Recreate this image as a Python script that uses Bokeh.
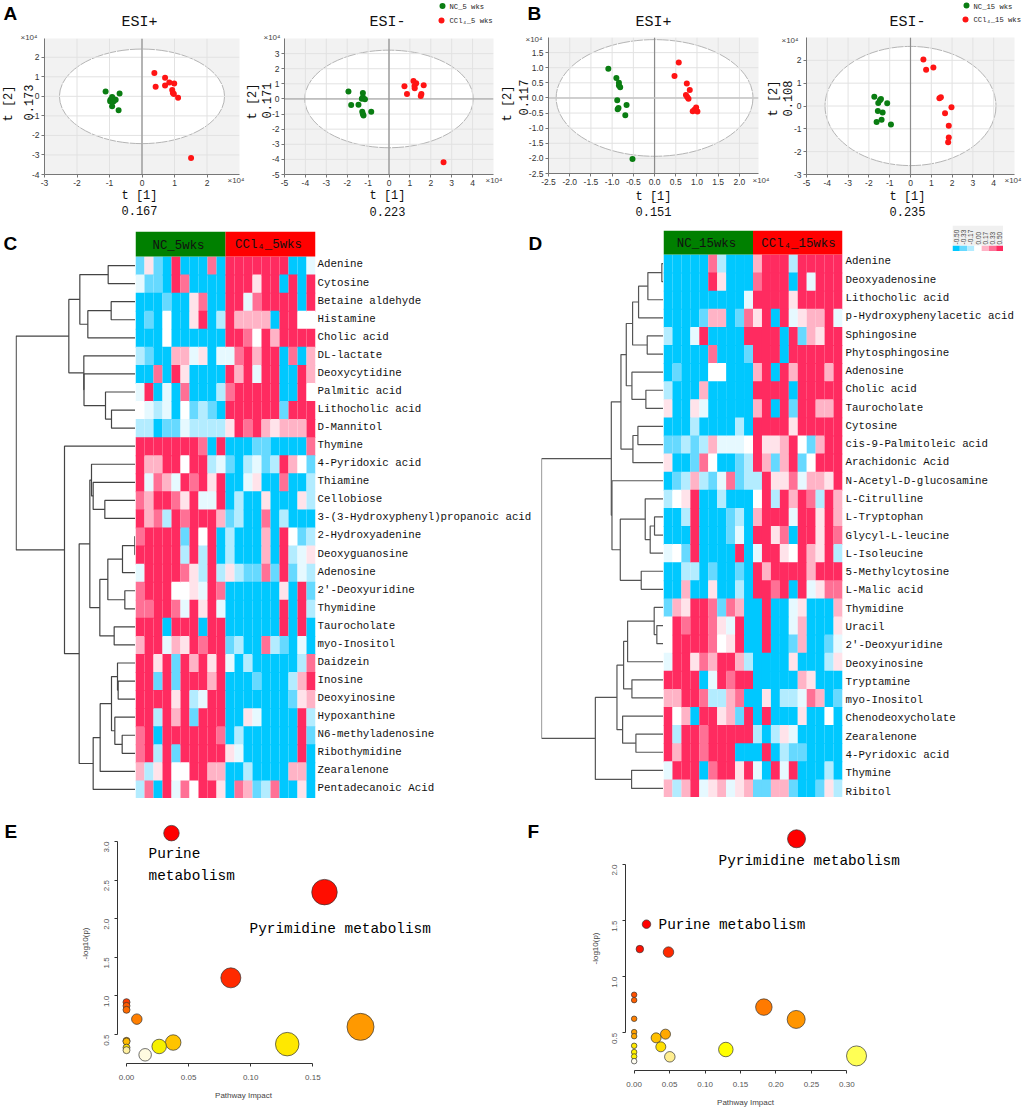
import math
from bokeh.plotting import figure
from bokeh.models import (Range1d, LinearAxis, FixedTicker, Span, LinearColorMapper, NumeralTickFormatter,
                          ColumnDataSource)
from bokeh.core.properties import value
from bokeh.embed import file_html
from bokeh.resources import INLINE

# ---------- PCA score plots ----------
a1_green_x = [-1.12, -0.69, -0.92, -0.97, -0.81, -0.98, -0.87, -0.92, -0.72, -0.90]
a1_green_y = [0.25, 0.14, -0.03, -0.17, -0.17, -0.25, -0.25, -0.51, -0.71, -0.10]
a1_red_x = [0.38, 0.71, 0.84, 0.99, 0.42, 0.71, 0.93, 0.95, 0.98, 1.11, 1.51]
a1_red_y = [1.19, 0.95, 0.71, 0.66, 0.49, 0.56, 0.32, 0.17, 0.12, -0.07, -3.15]
a2_green_x = [-1.94, -1.25, -1.81, -1.46, -1.30, -1.25, -1.15, -1.28, -1.25, -1.22, -0.85]
a2_green_y = [0.49, 0.40, -0.40, -0.38, 0.02, 0.11, -0.02, -0.84, -1.00, -1.10, -0.84]
a2_red_x = [1.17, 1.30, 0.74, 1.22, 1.23, 1.66, 0.86, 1.55, 1.52, 2.61]
a2_red_y = [1.19, 1.04, 0.84, 0.86, 0.71, 0.90, 0.33, 0.33, 0.20, -4.19]
b1_green_x = [-1.09, -0.90, -0.84, -0.84, -0.81, -0.88, -0.66, -0.85, -0.87, -0.69, -0.52]
b1_green_y = [0.97, 0.66, 0.50, 0.41, 0.35, -0.08, -0.23, -0.33, -0.37, -0.57, -2.02]
b1_red_x = [0.57, 0.47, 0.76, 0.83, 0.74, 0.77, 0.80, 0.98, 0.94, 0.90, 1.01]
b1_red_y = [1.17, 0.73, 0.48, 0.26, 0.10, 0.03, -0.03, -0.32, -0.39, -0.44, -0.45]
b2_green_x = [-1.74, -1.42, -1.55, -1.12, -1.57, -1.34, -1.39, -1.63, -0.94, -1.47]
b2_green_y = [0.40, 0.31, 0.13, 0.12, -0.22, -0.28, -0.60, -0.70, -0.81, 0.25]
b2_red_x = [0.62, 0.75, 1.10, 1.46, 1.39, 1.97, 1.66, 1.84, 1.84, 1.81]
b2_red_y = [2.04, 1.59, 1.69, 0.38, 0.34, -0.06, -0.32, -0.87, -1.38, -1.59]

a1_xticks = [-3, -2, -1, 0, 1, 2]
a1_yticks = [-4, -3, -2, -1, 0, 1, 2]
a2_xticks = [-5, -4, -3, -2, -1, 0, 1, 2, 3, 4]
a2_yticks = [-5, -4, -3, -2, -1, 0, 1, 2, 3]
b1_ticks = [-2.5, -2.0, -1.5, -1.0, -0.5, 0, 0.5, 1.0, 1.5, 2.0]
b1_yticks = [-2.5, -2.0, -1.5, -1.0, -0.5, 0, 0.5, 1.0, 1.5]
b2_xticks = [-5, -4, -3, -2, -1, 0, 1, 2, 3, 4]
b2_yticks = [-3, -2, -1, 0, 1, 2]

# ---------- heat maps: levels 0..8 stand for -0.5 .. +0.5 ----------
c_labels = ["Adenine", "Cytosine", "Betaine aldehyde", "Histamine", "Cholic acid", "DL-lactate",
            "Deoxycytidine", "Palmitic acid", "Lithocholic acid", "D-Mannitol", "Thymine",
            "4-Pyridoxic acid", "Thiamine", "Cellobiose", "3-(3-Hydroxyphenyl)propanoic acid",
            "2-Hydroxyadenine", "Deoxyguanosine", "Adenosine", "2'-Deoxyuridine", "Thymidine",
            "Taurocholate", "myo-Inositol", "Daidzein", "Inosine", "Deoxyinosine", "Hypoxanthine",
            "N6-methyladenosine", "Ribothymidine", "Zearalenone", "Pentadecanoic Acid"]
c_levels = [
    [1,5,1,0,8,0,0,0,7,0, 8,8,8,8,8,8,8,0,0,3],
    [3,1,1,0,8,7,0,0,0,0, 8,8,8,5,8,8,0,8,0,8],
    [0,0,0,1,0,0,5,7,0,0, 8,8,3,7,8,8,8,8,0,8],
    [0,1,0,4,0,0,5,8,0,2, 8,6,6,6,6,0,8,8,4,4],
    [0,0,0,4,0,0,0,0,0,0, 8,8,7,4,8,6,8,8,8,8],
    [2,1,0,0,6,6,3,5,0,3, 3,7,8,6,8,8,0,7,0,6],
    [0,0,7,0,8,5,0,0,0,0, 8,6,8,3,8,8,0,0,8,6],
    [3,8,0,3,0,7,0,0,0,2, 7,8,8,8,8,8,0,0,8,4],
    [4,3,2,3,0,4,1,2,1,0, 8,8,8,8,8,8,1,8,8,8],
    [2,2,0,1,1,3,2,2,2,2, 5,8,7,8,6,5,6,6,6,8],
    [8,8,8,8,8,8,8,7,0,8, 0,0,0,1,1,0,0,0,0,7],
    [8,6,6,8,8,4,8,8,2,3, 1,0,2,3,1,2,8,6,4,1],
    [8,3,7,6,3,8,7,8,5,8, 0,0,3,5,0,0,7,0,0,2],
    [7,6,8,8,7,5,8,3,3,8, 0,2,0,0,5,0,0,0,5,2],
    [8,6,7,2,8,7,8,8,8,6, 1,2,0,0,7,0,2,0,0,0],
    [7,8,8,8,8,1,8,4,8,0, 2,0,0,0,6,0,8,4,1,2],
    [8,8,8,8,8,2,8,2,8,0, 2,0,0,0,6,0,8,2,3,5],
    [3,8,8,8,8,7,5,2,8,2, 5,2,1,1,7,1,8,1,3,2],
    [7,8,8,8,4,4,5,3,8,7, 0,0,0,0,0,0,5,0,8,1],
    [7,7,8,8,7,3,8,5,8,3, 0,0,0,0,0,0,8,0,8,2],
    [8,8,8,0,8,8,8,0,8,8, 0,0,0,0,0,0,8,0,8,0],
    [6,8,8,3,6,5,8,7,8,8, 1,2,0,0,7,2,1,0,3,0],
    [8,8,5,8,1,8,6,8,5,8, 3,0,2,0,0,0,0,0,2,7],
    [8,8,1,8,1,8,8,8,6,8, 0,0,0,1,0,0,0,2,6,8],
    [8,8,8,8,5,8,2,3,8,8, 0,0,0,0,0,0,0,1,5,6],
    [8,8,2,8,6,8,1,8,8,8, 0,0,5,3,0,0,0,0,8,2],
    [7,8,0,8,8,8,8,8,8,7, 0,2,0,0,0,0,0,0,8,1],
    [7,8,2,8,1,8,8,8,8,8, 5,3,0,0,0,0,0,0,8,0],
    [6,2,5,8,4,4,8,8,6,6, 0,0,2,0,0,0,0,6,6,0],
    [2,7,0,8,3,7,4,8,8,5, 0,7,6,1,2,7,0,0,5,0],
]
d_labels = ["Adenine", "Deoxyadenosine", "Lithocholic acid", "p-Hydroxyphenylacetic acid", "Sphingosine",
            "Phytosphingosine", "Adenosine", "Cholic acid", "Taurocholate", "Cytosine",
            "cis-9-Palmitoleic acid", "Arachidonic Acid", "N-Acetyl-D-glucosamine", "L-Citrulline",
            "L-Tryptophan", "Glycyl-L-leucine", "L-Isoleucine", "5-Methylcytosine", "L-Malic acid",
            "Thymidine", "Uracil", "2'-Deoxyuridine", "Deoxyinosine", "Tryptamine", "myo-Inositol",
            "Chenodeoxycholate", "Zearalenone", "4-Pyridoxic acid", "Thymine", "Ribitol"]
d_levels = [
    [0,0,0,0,0,7,2,0,0,0, 6,8,8,8,2,8,8,8,8,8],
    [0,0,0,0,0,8,5,0,0,0, 7,8,8,8,0,8,3,8,8,8],
    [0,0,0,0,0,0,0,0,0,3, 8,8,8,8,5,8,8,8,8,8],
    [0,0,0,0,1,6,6,0,1,7, 5,8,0,8,3,5,6,6,8,3],
    [2,0,0,3,8,0,0,0,0,8, 8,8,8,0,8,1,6,5,8,8],
    [0,0,0,0,0,7,0,0,0,1, 8,8,8,0,8,8,8,8,8,8],
    [0,1,0,0,0,4,4,0,0,0, 6,8,0,8,6,8,8,8,6,8],
    [2,0,0,0,6,0,0,0,0,0, 8,8,8,8,0,8,8,8,8,8],
    [5,0,0,5,3,0,0,0,0,0, 6,8,0,8,1,8,8,6,6,8],
    [0,0,0,2,0,0,0,0,2,0, 8,8,8,8,5,8,8,8,8,8],
    [1,1,2,1,2,6,3,3,3,4, 8,5,5,6,8,4,1,6,8,8],
    [5,0,0,1,7,4,0,0,1,2, 8,6,1,6,8,1,4,8,8,8],
    [0,1,2,6,2,1,3,7,1,2, 2,8,5,5,7,3,6,6,5,8],
    [2,4,5,8,0,0,2,0,0,0, 4,8,2,8,6,8,7,2,8,6],
    [0,0,2,8,0,0,0,1,2,0, 6,8,8,8,3,8,8,5,8,6],
    [0,0,0,8,0,0,0,1,3,0, 8,8,5,7,0,8,8,5,8,7],
    [3,4,1,8,0,0,0,0,8,0, 3,8,8,5,4,8,6,5,8,2],
    [0,0,2,2,0,1,0,0,1,0, 8,6,8,8,8,8,6,8,8,8],
    [0,0,6,0,0,5,0,0,2,0, 8,8,7,8,0,8,3,5,7,7],
    [1,6,5,8,8,7,1,7,6,0, 0,8,0,0,3,5,0,0,0,6],
    [4,8,7,8,8,7,5,3,8,0, 0,8,0,0,3,6,0,0,0,5],
    [4,8,8,8,8,7,4,5,8,0, 0,8,0,0,1,6,0,0,1,3],
    [3,8,8,5,7,6,8,8,6,2, 0,0,0,0,5,0,0,0,2,5],
    [8,8,8,8,0,3,8,7,8,8, 0,0,0,0,0,6,5,0,0,0],
    [6,6,8,8,7,2,2,6,7,0, 0,5,0,2,2,3,7,6,0,1],
    [8,4,6,0,8,8,5,6,1,8, 0,8,0,0,0,5,0,0,4,0],
    [8,2,8,8,7,8,8,8,8,8, 2,0,2,5,3,0,0,0,0,0],
    [8,6,8,8,7,8,8,8,0,0, 0,8,0,2,1,1,0,0,0,0],
    [3,8,8,8,0,7,8,8,5,8, 3,0,8,3,8,0,0,0,2,0],
    [6,2,6,8,3,5,6,3,5,6, 1,1,6,6,1,0,0,1,5,2],
]
level_palette = ["#00c8ff", "#66d9ff", "#b3ecff", "#e6f9ff", "#ffffff", "#ffe3ea", "#ffb3c6", "#ff7095", "#ff2b60"]
scale_labels = ["-0.50", "-0.33", "-0.17", "0.00", "0.17", "0.33", "0.50"]
scale_colors = ["#00c8ff", "#66d9ff", "#b3ecff", "#ffffff", "#ffb3c6", "#ff7095", "#ff2b60"]

# dendrograms: (height, child, child); a leaf is a row index
c_tree = (358,
          (200,
           (167, (82, 0, 1), (143, (73, 2, 3), 4)),
           (155, 5, (154.5, 6, (90, 7, (72, 8, 9))))),
          (213, 10,
           (169,
            (137,
             (132, 11, (127, 12, (92, 13, 14))),
             (107, (83, (39, (2, 15, 16), 17), (32, 18, 19)), (64, 20, 21))),
            (127, (106, (72, (54, 22, (52, 23, 24)), (62, 25, (40, 26, 27))), 28), 29))))
d_tree = (367,
          (157,
           (128,
            (112, (93, (75, (47, (5, 0, 1), 2), 3), (49, 4, 5)), (95, 6, (53, 7, 8))),
            (92, (77, 9, 10), 11)),
           (155, 12,
            (130, (55, 13, (40, (27, 14, 15), 16)), (67, 17, 18)))),
          (205,
           (140,
            (120, (108, (28, 19, (20, 20, 21)), 22), (95, 23, 24)),
            (123, 25, (83, 26, 27))),
           (96, 28, 29)))

# ---------- pathway bubble plots ----------
e_x = [0.0362, 0.1594, 0.084, 0, 0, 0, 0.0083, 0.1884, 0, 0, 0.0376, 0.0263, 0.1294, 0, 0, 0.015]
e_y = [3.108, 2.344, 1.234, 0.919, 0.871, 0.82, 0.699, 0.599, 0.418, 0.409, 0.396, 0.345, 0.375, 0.33, 0.297, 0.237]
e_size = [15.5, 25.5, 20, 7, 7, 7, 10.5, 27, 7, 7, 15.5, 14.5, 23.5, 7, 7, 12.5]
e_color = ["#ff0000", "#ff0d00", "#ff2a00", "#ff3c00", "#ff5a00", "#ff6a00", "#ff7f00", "#ff9900", "#ffa500",
           "#ffbb00", "#ffc400", "#f6f000", "#ffe800", "#ffe000", "#fff0a0", "#fffbe0"]
f_x = [0.229, 0.0174, 0.008, 0.0484, 0, 0, 0, 0.1829, 0.2285, 0, 0, 0.0442, 0.031, 0.0376, 0, 0, 0, 0, 0.1293, 0.0503, 0.3136]
f_y = [2.229, 1.468, 1.246, 1.219, 0.839, 0.791, 0.625, 0.729, 0.619, 0.506, 0.47, 0.488, 0.455, 0.375, 0.384, 0.328,
       0.289, 0.247, 0.351, 0.286, 0.294]
f_size = [18, 8.5, 7.5, 10.5, 5.5, 5.5, 5.5, 16.5, 18, 5.5, 5.5, 10, 10, 10, 5.5, 5.5, 5.5, 5.5, 14.5, 10.5, 20]
f_color = ["#ff0000", "#ff0000", "#ff1000", "#ff2a00", "#ff5000", "#ff6000", "#ff8000", "#ff7a00", "#ff9500", "#ffa000",
           "#ffa800", "#ffa800", "#ffc000", "#ffdf00", "#ffe800", "#fff000", "#fff300", "#fffdf0", "#ffff00", "#ffee90", "#ffff55"]
e_xticks = [0, 0.05, 0.10, 0.15]
e_yticks = [0.5, 1.0, 1.5, 2.0, 2.5, 3.0]
f_xticks = [0, 0.05, 0.10, 0.15, 0.20, 0.25, 0.30]
f_yticks = [0.5, 1.0, 1.5, 2.0]

MONO = "Liberation Mono"
SANS = "Liberation Sans"
figs = []


def panel(x0, y0, x1, y1, pl, pr, pt, pb, x_range, y_range):
    """Figure whose plotting frame lies at page pixels x0..x1, y0..y1."""
    p = figure(width=int(x1 - x0 + pl + pr), height=int(y1 - y0 + pt + pb), x_range=x_range, y_range=y_range,
               output_backend="svg", toolbar_location=None, tools="", min_border_left=pl, min_border_right=pr,
               min_border_top=pt, min_border_bottom=pb, background_fill_color=None, border_fill_color=None,
               outline_line_color=None, x_axis_type=None, y_axis_type=None)
    p.styles = {"position": "absolute", "left": f"{x0 - pl}px", "top": f"{y0 - pt}px"}
    figs.append(p)
    return p


def score_plot(frame, xr, yr, xticks, yticks, semi, gx, gy, rx, ry, hzero, hcolor="#999999", hwidth=1.0, fmt="0"):
    x0, y0, x1, y1 = frame
    p = panel(x0, y0, x1, y1, 28, 4, 2, 20, Range1d(*xr), Range1d(*yr))
    p.background_fill_color = "#f2f2f2"
    p.ellipse(x=[0], y=[0], width=[2 * semi[0]], height=[2 * semi[1]], fill_color="#ffffff",
              line_color="#b5b5b5", line_width=1, line_dash="12 1", level="image")
    for axis_side, ticks in (("below", xticks), ("left", yticks)):
        ax = LinearAxis(ticker=FixedTicker(ticks=ticks), axis_line_color="#777777", major_tick_line_color="#777777",
                        major_tick_out=3, major_tick_in=0, major_label_text_font=SANS, major_label_text_font_size="8.5px",
                        major_label_text_color="#333333", major_label_standoff=2,
                        formatter=NumeralTickFormatter(format=fmt))
        p.add_layout(ax, axis_side)
        for t in ticks:
            p.add_layout(Span(location=t, dimension="height" if axis_side == "below" else "width",
                              line_color="#e2e2e2", line_width=1, level="underlay"))
    p.add_layout(Span(location=0, dimension="height", line_color="#8c8c8c", line_width=1.2, level="underlay"))
    if hzero:
        p.add_layout(Span(location=0, dimension="width", line_color=hcolor, line_width=hwidth, level="underlay"))
    p.scatter(gx, gy, size=6, color="#0a7d12", line_width=0)
    p.scatter(rx, ry, size=6, color="#ff1414", line_width=0)
    return p


score_plot((44, 38, 239, 174), (-3, 3.0), (-4, 2.96), a1_xticks, a1_yticks, (2.54, 2.42),
           a1_green_x, a1_green_y, a1_red_x, a1_red_y, False)
score_plot((284, 38, 493, 174), (-5, 5.0), (-5, 4.0), a2_xticks, a2_yticks, (4.03, 3.23),
           a2_green_x, a2_green_y, a2_red_x, a2_red_y, True)
score_plot((548, 37, 758, 173), (-2.5, 2.45), (-2.5, 2.0), b1_ticks, b1_yticks, (2.32, 1.93),
           b1_green_x, b1_green_y, b1_red_x, b1_red_y, True, "#c4c4c4", 1.6, "0.0")
score_plot((806, 37, 1014, 174), (-5, 5.0), (-3, 3.0), b2_xticks, b2_yticks, (4.11, 2.61),
           b2_green_x, b2_green_y, b2_red_x, b2_red_y, False)


def tree_segments(node, xs, ys):
    """Returns (row position, height) of a node while collecting its elbow lines."""
    if not isinstance(node, tuple):
        return float(node), 0.0
    h, a, b = node
    ya, ha = tree_segments(a, xs, ys)
    yb, hb = tree_segments(b, xs, ys)
    xs.append([ha, h, h, hb])
    ys.append([ya, ya, yb, yb])
    return (ya + yb) / 2, h


def heat_panel(labels, levels, tree, hx0, hx1, ty0, y0, y1, tx0, tree_max, right_pad, tree_color, standoff,
               label_shift, label_stretch):
    rows = len(labels)
    head = (y0 - ty0) / ((y1 - y0) / rows)
    t = panel(tx0, ty0, hx0, y1, 0, 0, 0, 0, Range1d(tree_max, 0), Range1d(rows - 0.5, -0.5 - head))
    xs, ys = [], []
    tree_segments(tree, xs, ys)
    t.multi_line(xs, ys, line_color=tree_color, line_width=1.2)
    cols = len(levels[0])
    p = panel(hx0, ty0, hx1, y1, 0, right_pad, 0, 0, Range1d(-0.5, cols - 0.5), Range1d(rows - 0.5, -0.5 - head))
    cx, cy, cv = [], [], []
    for r, row in enumerate(levels):
        for c, lv in enumerate(row):
            cx.append(c)
            cy.append(r)
            cv.append((lv - 4) / 8)
    mapper = LinearColorMapper(palette=level_palette, low=-0.5625, high=0.5625)
    src = ColumnDataSource({"x": cx, "y": cy, "v": cv})
    p.rect("x", "y", width=1, height=1, dilate=True, line_color=None,
           fill_color={"field": "v", "transform": mapper}, source=src)
    header = ColumnDataSource({"x": [(cols / 2 - 1) / 2, (cols / 2 - 1) / 2 + cols / 2], "y": [-0.5 - head / 2] * 2,
                               "w": [cols / 2] * 2, "h": [head] * 2, "c": ["#008000", "#ff0000"]})
    p.rect("x", "y", width="w", height="h", fill_color="c", line_color=None, source=header)
    spots = [round(label_shift + i * label_stretch, 3) for i in range(rows)]
    ax = LinearAxis(ticker=FixedTicker(ticks=spots),
                    major_label_overrides=dict(zip(spots, labels)),
                    axis_line_color=None, major_tick_line_color=None, minor_tick_line_color=None,
                    major_tick_out=0, major_tick_in=0,
                    major_label_standoff=standoff, major_label_text_font=MONO, major_label_text_font_size="10.8px",
                    major_label_text_color="#111111")
    p.add_layout(ax, "right")


heat_panel(c_labels, c_levels, c_tree, 135, 315, 231, 256, 798, 15, 360, 230, "#444444", 2, -0.06, 1.0)
heat_panel(d_labels, d_levels, d_tree, 663, 842, 230, 254, 797, 541, 367, 180, "#555555", 3, -0.12, 1.01)

# colour scale of panel D
k = panel(952, 245, 1003, 251, 0, 0, 20, 0, Range1d(-0.5, 6.5), Range1d(0, 1))
k.border_fill_color = "#f0f0f0"
k.rect(list(range(7)), [0.5] * 7, width=1, height=1, line_color=None, fill_color=scale_colors)
k.add_layout(LinearAxis(ticker=FixedTicker(ticks=list(range(7))),
                        major_label_overrides={i: s for i, s in enumerate(scale_labels)},
                        axis_line_color=None, major_tick_line_color=None, minor_tick_line_color=None,
                        major_tick_out=0, major_tick_in=0,
                        major_label_standoff=1, major_label_orientation=math.pi / 2,
                        major_label_text_font=SANS, major_label_text_font_size="6.5px",
                        major_label_text_color="#444444"), "above")


def bubble_plot(frame, xr, yr, xticks, yticks, bx, by, bs, bc, yfmt="0.0"):
    x0, y0, x1, y1 = frame
    p = panel(x0, y0, x1, y1, 30, 4, 2, 26, Range1d(*xr), Range1d(*yr))
    common = dict(axis_line_color="#333333", major_tick_line_color="#333333", major_tick_out=3, major_tick_in=0,
                  major_label_text_font=SANS, major_label_text_font_size="8px", major_label_text_color="#555555",
                  minor_tick_line_color=None)
    p.add_layout(LinearAxis(ticker=FixedTicker(ticks=xticks), bounds=(xticks[0], xticks[-1]), major_label_standoff=8,
                            formatter=NumeralTickFormatter(format="0.00"), **common), "below")
    p.add_layout(LinearAxis(ticker=FixedTicker(ticks=yticks), bounds=(yticks[0], yticks[-1]), major_label_standoff=8,
                            major_label_orientation=math.pi / 2,
                            formatter=NumeralTickFormatter(format=yfmt), **common), "left")
    p.scatter(bx, by, size=bs, fill_color=bc, line_color="#333333", line_width=0.7)


bubble_plot((117, 822, 400, 1063), (-0.00725, 0.2206), (0.1244, 3.246), e_xticks, e_yticks, e_x, e_y, e_size, e_color)
bubble_plot((625, 822, 879, 1070), (-0.0122, 0.346), (0.164, 2.374), f_xticks, f_yticks, f_x, f_y, f_size, f_color)

# ---------- page-level texts ----------
page = panel(0, 0, 1024, 1108, 0, 0, 0, 0, Range1d(0, 1024), Range1d(1108, 0))


def put(items, font, size, color="#111111", align="center", style="normal", angle=0.0):
    xs = [i[0] for i in items]
    ys = [i[1] for i in items]
    ts = [i[2] for i in items]
    page.text(xs, ys, text=ts, text_font=value(font), text_font_size=size, text_color=color, text_align=align,
              text_baseline="middle", text_font_style=style, angle=angle)


put([(3, 13, "A"), (527, 13, "B"), (3, 243, "C"), (528, 243, "D"), (4, 831, "E"), (527, 831, "F")],
    SANS, "19px", "#000000", "left", "bold")
put([(139, 22, "ESI+"), (387, 22, "ESI-"), (653, 22, "ESI+"), (907, 22, "ESI-")], MONO, "15px")
put([(139, 195, "t [1]"), (139, 210, "0.167"), (387, 195, "t [1]"), (387, 211, "0.223"),
     (653, 196, "t [1]"), (653, 211, "0.151"), (907, 196, "t [1]"), (907, 211, "0.235")], MONO, "12px")
put([(8, 103, "t [2]"), (28, 102, "0.173"), (252, 101, "t [2]"), (266, 100, "0.171"),
     (507, 103, "t [2]"), (523, 97, "0.117"), (773, 98, "t [2]"), (787, 98, "0.108")], MONO, "12px", angle=math.pi / 2)
put([(20, 37, "×10⁴"), (227, 180, "×10⁴"), (263, 37, "×10⁴"), (485, 180, "×10⁴"),
     (525, 39, "×10⁴"), (752, 180, "×10⁴"), (781, 40, "×10⁴"), (1004, 180, "×10⁴")], SANS, "8px", "#444444", "left")
put([(449, 6, "NC_5 wks"), (449, 20, "CCl₄_5 wks"), (973, 6, "NC_15 wks"), (973, 19, "CCl₄_15 wks")],
    MONO, "7.2px", "#222222", "left")
page.scatter([442, 441, 966, 965], [5.5, 20, 5, 19], size=6, line_width=0,
             color=["#0a7d12", "#ff1414", "#0a7d12", "#ff1414"])
put([(178, 245, "NC_5wks"), (268, 244, "CCl₄_5wks"), (706, 243, "NC_15wks"), (798, 243, "CCl₄_15wks")], MONO, "12.4px")
put([(148, 853, "Purine"), (148, 875, "metabolism"), (249, 928, "Pyrimidine metabolism"),
     (718, 860, "Pyrimidine metabolism"), (658, 924, "Purine metabolism")], MONO, "14.4px", "#000000", "left")
put([(243, 1095, "Pathway Impact"), (745, 1102, "Pathway Impact")], SANS, "8px", "#444444")
put([(85, 943, "-log10(p)"), (595, 948, "-log10(p)")], SANS, "8px", "#444444", angle=math.pi / 2)

open("out.html", "w").write(file_html(figs, INLINE))
